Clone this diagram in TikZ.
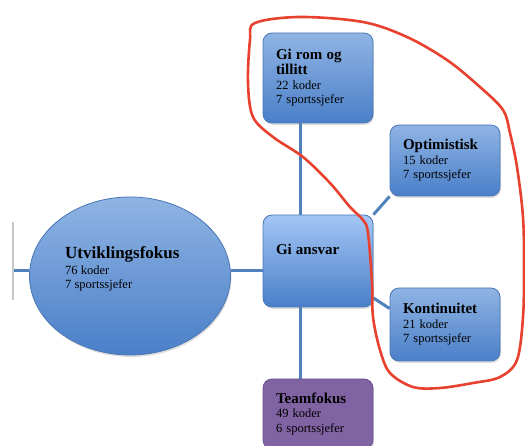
\documentclass[tikz,border=0pt]{standalone}
\usepackage{fontspec}
\setmainfont{Liberation Serif}
\usetikzlibrary{shapes.geometric,shadows,backgrounds}
\definecolor{linkblue}{HTML}{4F81BD}
\definecolor{boxtop}{HTML}{8FB4E3}
\definecolor{boxbot}{HTML}{4A7FC9}
\definecolor{boxedge}{HTML}{4A78B5}
\definecolor{ansvtop}{HTML}{A3C6F5}
\definecolor{purp}{HTML}{8063A2}
\definecolor{purpedge}{HTML}{6E5391}
\definecolor{redline}{HTML}{E8412F}
\newcommand{\boxttl}{\bfseries\fontsize{15}{15}\selectfont}
\begin{document}
\begin{tikzpicture}[x=1pt,y=-1pt,
  box/.style={draw=boxedge, line width=0.8pt, rounded corners=9pt,
    top color=boxtop, bottom color=boxbot, minimum width=110pt,
    text width=84pt, align=left, inner xsep=13pt, inner ysep=0pt,
    drop shadow={opacity=0.25, shadow xshift=1pt, shadow yshift=-2pt},
    font=\fontsize{12.5}{14.5}\selectfont},
  conn/.style={draw=linkblue, line width=3pt},
  redcurve/.style={draw=redline, line width=2.6pt, line join=round}]
\useasboundingbox (0,0) rectangle (525,446);

\node[box, minimum height=90pt] (rom) at (318,78)
  {{\boxttl Gi rom og\\tillitt\par}22 koder\\7 sportssjefer};
\node[box, minimum height=71pt] (opt) at (445,160.5)
  {{\boxttl Optimistisk\par}15 koder\\7 sportssjefer};
\node[box, minimum height=92pt, top color=ansvtop] (ansv) at (318,261)
  {{\boxttl Gi ansvar\par}\vspace{8pt}\mbox{}};
\node[box, minimum height=73pt] (kon) at (445,324.5)
  {{\boxttl Kontinuitet\par}21 koder\\7 sportssjefer};
\node[box, minimum height=70pt, draw=purpedge, top color=purp, bottom color=purp] (team) at (318,414)
  {{\boxttl Teamfokus\par}49 koder\\6 sportssjefer};
\node[ellipse, draw=boxedge, line width=0.8pt, top color=boxtop, bottom color=boxbot,
  minimum width=201pt, minimum height=158pt,
  drop shadow={opacity=0.25, shadow xshift=1pt, shadow yshift=-2pt}] (utv) at (130,276) {};
\node[anchor=west, align=left, inner sep=0pt, font=\fontsize{12.5}{14.5}\selectfont] (utvt) at (65,269)
  {{\bfseries\fontsize{17}{17}\selectfont Utviklingsfokus}\\[1pt]76 koder\\7 sportssjefer};

\coordinate (lefttop) at (13,222);
\coordinate (leftbot) at (13,300);
\coordinate (leftmid) at (13,271);

\begin{scope}[on background layer]
  \draw[conn] ([xshift=-18pt]rom.south) -- ([xshift=-18pt]ansv.north);
  \draw[conn] ([xshift=-18pt]ansv.south) -- ([xshift=-18pt]team.north);
  \draw[conn] (utv.east |- leftmid) -- (leftmid -| ansv.west);
  \draw[conn] (ansv.north east) -- (opt.south west);
  \draw[conn] ([yshift=-37pt]ansv.east) -- ([yshift=16pt]kon.west);
  \draw[conn] (leftmid) -- (leftmid -| utv.west);
  \draw[draw=black!22, line width=2pt] (lefttop) -- (leftbot);
\end{scope}

\draw[redcurve] plot[smooth cycle, tension=0.55] coordinates {
  (255,23) (300,17) (363,22) (407,37) (447,60) (480,87) (503,110)
  (510,133) (517,167) (523,217) (524,267) (523,317) (517,360) (500,377)
  (473,383) (440,388) (413,387) (390,373) (380,350) (373,317) (372,283)
  (368,233) (363,220) (350,207) (330,183) (303,157) (273,137) (253,117)
  (248,83) (250,40)};
\end{tikzpicture}
\end{document}
